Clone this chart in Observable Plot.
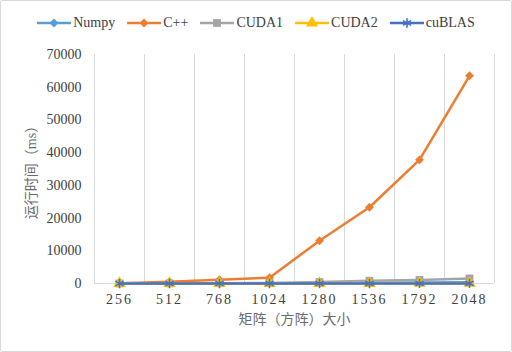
<!DOCTYPE html>
<html>
<head>
<meta charset="utf-8">
<script src="https://cdn.jsdelivr.net/npm/d3@7"></script>
<script src="https://cdn.jsdelivr.net/npm/@observablehq/plot@0.6"></script>
<style>
  body { margin: 0; background: #fff; }
  #wrap { position: relative; width: 512px; height: 352px; overflow: hidden; background: #fff; }
  #legend { height: 40px; display: flex; justify-content: center; align-items: center; padding-top: 6px; box-sizing: border-box;
    font-family: "Liberation Serif", "Noto Sans CJK SC", serif; font-size: 14px; color: #404040; }
  .item { display: flex; align-items: center; margin: 0 6px; }
  .item svg { margin-right: 2px; }
  #border { position: absolute; left: 0; top: 0; right: 0; bottom: 0; border: 1px solid #d9d9d9; border-radius: 2px; pointer-events: none; }
  #chart svg [aria-label="x-axis tick label"] text { letter-spacing: 2px; }
  #chart svg [aria-label="x-axis label"], #chart svg [aria-label="y-axis label"] { fill: #6b6b6b; }
</style>
</head>
<body>
<div id="wrap">
  <div id="legend"></div>
  <div id="chart"></div>
  <div id="border"></div>
</div>
<script>
const sizes = ["256", "512", "768", "1024", "1280", "1536", "1792", "2048"];
const seriesNames = ["Numpy", "C++", "CUDA1", "CUDA2", "cuBLAS"];
const numpy  = [2, 10, 30, 60, 110, 180, 270, 400];
const cpp    = [70, 550, 1160, 1770, 13050, 23300, 37800, 63500];
const cuda1  = [10, 40, 90, 180, 450, 850, 1100, 1550];
const cuda2  = [1, 3, 8, 15, 30, 50, 80, 110];
const cublas = [0.5, 1, 2, 4, 7, 11, 17, 25];
const yTicks = [0, 10000, 20000, 30000, 40000, 50000, 60000, 70000];

const colors = ["#5B9BD5", "#ED7D31", "#A5A5A5", "#FFC000", "#4472C4"];
const symbols = ["diamond2", "diamond2", "square", "triangle", "asterisk"];
const radii = [4, 4, 4.4, 4.6, 4.4];
const values = [numpy, cpp, cuda1, cuda2, cublas];

const rows = seriesNames.map((name, i) => sizes.map((s, j) => ({series: name, size: s, ms: values[i][j]})));

const marks = [
  Plot.ruleX(sizes, {x: d => d, dx: -25, stroke: "#d9d9d9", strokeWidth: 1}),
  Plot.ruleX([sizes[sizes.length - 1]], {x: d => d, dx: 25, stroke: "#d9d9d9", strokeWidth: 1}),
  Plot.ruleY([0], {stroke: "#d9d9d9", strokeWidth: 1})
];
rows.forEach((data, i) => {
  marks.push(Plot.line(data, {x: "size", y: "ms", stroke: colors[i], strokeWidth: 2.5}));
  if (symbols[i] === "asterisk") {
    marks.push(Plot.dot(data, {x: "size", y: "ms", symbol: symbols[i], r: radii[i], stroke: colors[i], strokeWidth: 1.6, fill: "none"}));
  } else {
    marks.push(Plot.dot(data, {x: "size", y: "ms", symbol: symbols[i], r: radii[i], fill: colors[i], stroke: "none"}));
  }
});

marks.push(Plot.axisY({ticks: yTicks, tickFormat: d3.format("d"), tickSize: 0, tickPadding: 13, fontSize: 14, fill: "#404040",
  label: "运行时间（ms）", labelAnchor: "center", labelArrow: "none", labelOffset: 68}));
marks.push(Plot.axisX({tickSize: 0, tickPadding: 11, fontSize: 14, fill: "#404040",
  label: "矩阵（方阵）大小", labelAnchor: "center", labelArrow: "none", labelOffset: 40}));

const chart = Plot.plot({
  width: 512,
  height: 312,
  marginTop: 14,
  marginBottom: 69,
  marginLeft: 94,
  marginRight: 18,
  style: {fontFamily: "'Liberation Serif', 'Noto Sans CJK SC', serif", fontSize: "14px", color: "#595959", background: "transparent"},
  x: {type: "band", domain: sizes, padding: 0},
  y: {domain: [0, 70000]},
  marks
});
document.getElementById("chart").appendChild(chart);

// legend
const legend = document.getElementById("legend");
const symMap = {diamond2: d3.symbolDiamond2, square: d3.symbolSquare, triangle: d3.symbolTriangle, asterisk: d3.symbolAsterisk};
seriesNames.forEach((name, i) => {
  const item = document.createElement("div");
  item.className = "item";
  const sw = d3.create("svg").attr("width", 34).attr("height", 12);
  sw.append("line").attr("x1", 0).attr("x2", 34).attr("y1", 6).attr("y2", 6).attr("stroke", colors[i]).attr("stroke-width", 2.5);
  const path = d3.symbol(symMap[symbols[i]], Math.PI * radii[i] * radii[i])();
  const p = sw.append("path").attr("d", path).attr("transform", "translate(17,6)");
  if (symbols[i] === "asterisk") p.attr("fill", "none").attr("stroke", colors[i]).attr("stroke-width", 1.6);
  else p.attr("fill", colors[i]);
  item.appendChild(sw.node());
  const t = document.createElement("span");
  t.textContent = name;
  item.appendChild(t);
  legend.appendChild(item);
});
</script>
</body>
</html>
